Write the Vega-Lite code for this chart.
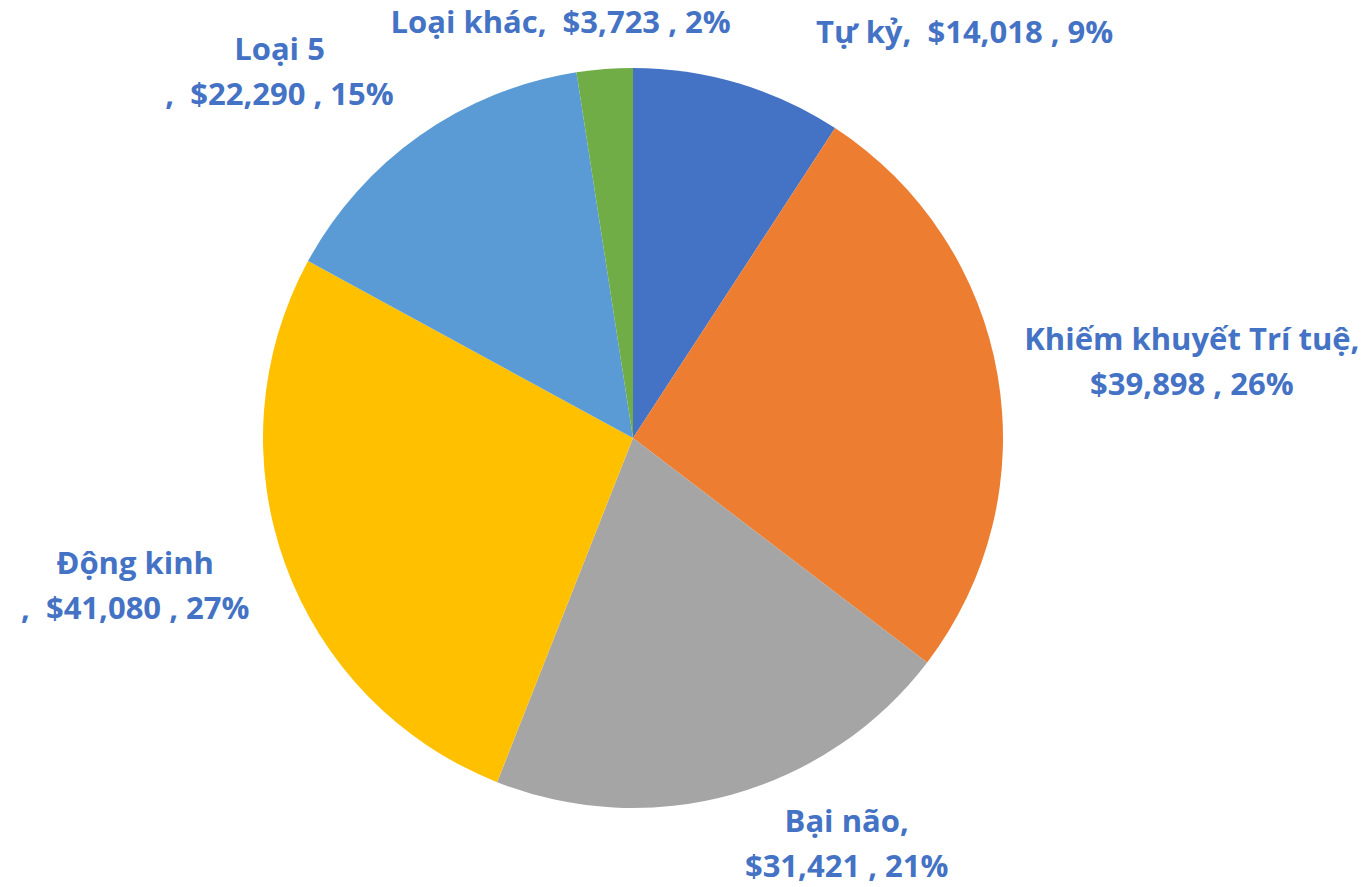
{
  "$schema": "https://vega.github.io/schema/vega-lite/v6.json",
  "width": 1266,
  "height": 876,
  "autosize": {"type": "none"},
  "padding": {"left": 0, "top": 0, "right": 102, "bottom": 11},
  "background": "white",
  "view": {"stroke": null},
  "data": {
    "values": [
      {"idx": 1, "category": "Tự kỷ", "value": 14018, "label": "Tự kỷ,\u00a0 $14,018 , 9%"},
      {"idx": 2, "category": "Khiếm khuyết Trí tuệ", "value": 39898, "label": "Khiếm khuyết Trí tuệ,\n$39,898 , 26%"},
      {"idx": 3, "category": "Bại não", "value": 31421, "label": "Bại não,\n$31,421 , 21%"},
      {"idx": 4, "category": "Động kinh", "value": 41080, "label": "Động kinh\n,\u00a0 $41,080 , 27%"},
      {"idx": 5, "category": "Loại 5", "value": 22290, "label": "Loại 5\n,\u00a0 $22,290 , 15%"},
      {"idx": 6, "category": "Loại khác", "value": 3723, "label": "Loại khác,\u00a0 $3,723 , 2%"}
    ]
  },
  "encoding": {
    "theta": {"field": "value", "type": "quantitative", "stack": true},
    "order": {"field": "idx", "type": "quantitative"},
    "detail": {"field": "category", "type": "nominal"}
  },
  "layer": [
    {
      "mark": {"type": "arc", "outerRadius": 370},
      "encoding": {
        "color": {
          "field": "category",
          "type": "nominal",
          "scale": {
            "domain": ["Tự kỷ", "Khiếm khuyết Trí tuệ", "Bại não", "Động kinh", "Loại 5", "Loại khác"],
            "range": ["#4472C4", "#ED7D31", "#A5A5A5", "#FFC000", "#5B9BD5", "#70AD47"]
          },
          "legend": null
        }
      }
    },
    {
      "mark": {"type": "text", "radius": 420, "dx": 212, "dy": -1, "font": "Open Sans", "fontWeight": "bold", "fontSize": 31, "fill": "#4472C4", "lineBreak": "\n", "lineHeight": 45, "align": "center", "baseline": "middle"},
      "encoding": {"text": {"condition": {"test": "datum.category === 'Tự kỷ'", "field": "label"}, "value": ""}}
    },
    {
      "mark": {"type": "text", "radius": 560, "dx": 7, "dy": -1.5, "font": "Open Sans", "fontWeight": "bold", "fontSize": 31, "fill": "#4472C4", "lineBreak": "\n", "lineHeight": 45, "align": "center", "baseline": "middle"},
      "encoding": {"text": {"condition": {"test": "datum.category === 'Khiếm khuyết Trí tuệ'", "field": "label"}, "value": ""}}
    },
    {
      "mark": {"type": "text", "radius": 420, "dx": 101, "dy": -19.5, "font": "Open Sans", "fontWeight": "bold", "fontSize": 31, "fill": "#4472C4", "lineBreak": "\n", "lineHeight": 45, "align": "center", "baseline": "middle"},
      "encoding": {"text": {"condition": {"test": "datum.category === 'Bại não'", "field": "label"}, "value": ""}}
    },
    {
      "mark": {"type": "text", "radius": 520, "dx": -9, "dy": -50.5, "font": "Open Sans", "fontWeight": "bold", "fontSize": 31, "fill": "#4472C4", "lineBreak": "\n", "lineHeight": 45, "align": "center", "baseline": "middle"},
      "encoding": {"text": {"condition": {"test": "datum.category === 'Động kinh'", "field": "label"}, "value": ""}}
    },
    {
      "mark": {"type": "text", "radius": 505, "dx": -63, "dy": 26.5, "font": "Open Sans", "fontWeight": "bold", "fontSize": 31, "fill": "#4472C4", "lineBreak": "\n", "lineHeight": 45, "align": "center", "baseline": "middle"},
      "encoding": {"text": {"condition": {"test": "datum.category === 'Loại 5'", "field": "label"}, "value": ""}}
    },
    {
      "mark": {"type": "text", "radius": 410, "dx": -41, "dy": -5, "font": "Open Sans", "fontWeight": "bold", "fontSize": 31, "fill": "#4472C4", "lineBreak": "\n", "lineHeight": 45, "align": "center", "baseline": "middle"},
      "encoding": {"text": {"condition": {"test": "datum.category === 'Loại khác'", "field": "label"}, "value": ""}}
    }
  ]
}
